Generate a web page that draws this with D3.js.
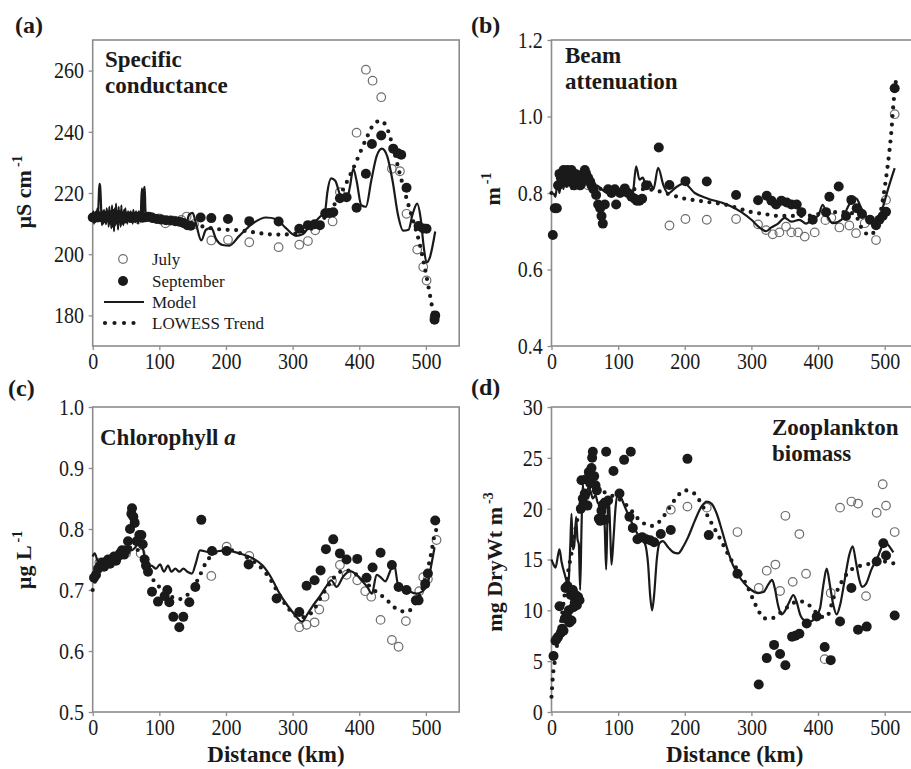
<!DOCTYPE html>
<html>
<head>
<meta charset="utf-8">
<script src="https://cdn.jsdelivr.net/npm/d3@7"></script>
<style>
  body { margin: 0; background: #fff; }
  svg { display: block; font-family: "Liberation Serif", "Times New Roman", serif; }
</style>
</head>
<body>
<script>
// ---- data: [distance km, value] ----
const distanceTicks = [0, 100, 200, 300, 400, 500];

const condTicks = [180, 200, 220, 240, 260];
const condJuly = [[5,212.3],[18,211.8],[30,212.5],[42,211.2],[55,212],[68,211.5],[88,212.2],[100,211.7],[109,210.1],[122,211],[133,211.2],[141,212.3],[152,209.8],[178,204.5],[203,204.7],[235,203.9],[279,202.3],[310,203.1],[323,204.3],[334,207.8],[360,210.7],[371,220.3],[396,239.7],[410,260.3],[420,256.7],[433,251.3],[449,227.9],[461,227.1],[471,213.2],[487,201.5],[496,195.8],[501,191.4],[513,179.5]];
const condSept = [[0,212],[3,212.2],[7,212],[11,212.4],[15,211.9],[19,212.3],[23,212],[27,212.5],[31,211.7],[35,212.3],[39,212],[43,212.4],[47,211.6],[51,212.1],[55,212.3],[59,211.8],[63,212.2],[67,212],[71,212.4],[75,211.9],[79,212.1],[84,212.2],[90,211.8],[96,211.5],[103,211.3],[110,211.1],[117,211],[124,210.8],[130,210.6],[136,210.2],[142,209.5],[147,209.3],[162,212],[178,211.8],[203,211.5],[235,210.8],[279,210.7],[310,208.3],[323,209.5],[333,209.8],[341,209.5],[349,213.4],[355,213.5],[361,213.7],[371,218.3],[381,218.6],[396,215.2],[410,226.3],[419,236],[433,238.8],[451,234.5],[458,233],[463,232.5],[471,221.7],[489,209.2],[496,208.4],[501,208.3],[514,180],[513,178.6]];
const condModel = [[0,212],[1,214],[2,210],[3,213.5],[4,210.5],[5,214],[6,211],[7,215],[8,212],[9,218],[10,223],[11,222.5],[12,219],[13,213],[14,209.5],[15,214],[16,210],[17,214.5],[18,210.5],[19,213.8],[20,209.8],[21,215],[22,211],[23,214],[24,209],[25,215.5],[26,210],[27,214],[28,208.5],[29,216],[30,209],[31,214.5],[32,207.5],[33,215],[34,209.5],[35,216.5],[36,210],[37,214],[38,208],[39,215.5],[40,210.5],[41,214],[42,209],[43,216],[44,210],[45,213.5],[46,209.5],[47,214.5],[48,210.5],[49,215],[50,211],[51,213.5],[52,210],[53,214],[54,211],[55,213],[56,210.5],[57,214],[58,211],[59,213.5],[60,210],[61,214.5],[62,211],[63,213],[64,210.5],[65,214],[66,211],[67,213.5],[68,210],[69,214],[70,211.5],[71,213],[72,212],[73,218],[74,221.5],[75,214],[76,213],[77,221],[78,222],[79,215],[80,212],[81,213.5],[82,211],[85,212.5],[90,211.5],[95,212],[100,211.5],[110,211],[120,211],[130,210.5],[140,210],[145,213],[150,213.5],[155,210],[163,204.5],[170,208],[178,208.6],[185,205],[195,203],[205,202.8],[220,206],[240,210],[260,212],[275,211.5],[290,208.5],[305,206],[315,206.5],[325,209],[340,212],[349,214.5],[352,220],[358,224.8],[364,224],[372,219],[381,217.6],[386,222],[391,228],[396,224],[403,216],[410,215.5],[418,224],[426,232],[434,234.5],[442,232],[450,224],[458,213],[466,207.7],[474,208],[480,213],[487,216.5],[492,212],[497,202],[501,197.3],[506,199],[514,207.4]];
const condTrend = [[0,212],[20,212.2],[40,212.3],[60,212.2],[80,212],[100,211.6],[120,211],[140,210.3],[160,209.3],[180,208.4],[200,208],[220,207.8],[240,207.2],[260,206.6],[280,206.4],[300,206.6],[320,207.6],[335,209.2],[350,212.5],[365,217],[380,223],[395,230],[410,237.5],[422,242.5],[432,243.6],[440,242],[450,235.5],[460,227],[470,219],[480,211.5],[490,204],[498,196],[505,188],[510,182],[516,175.5]];

const beamTicks = [0.4, 0.6, 0.8, 1.0, 1.2];
const beamJuly = [[10,0.82],[25,0.83],[40,0.84],[55,0.82],[177,0.715],[201,0.732],[233,0.730],[277,0.732],[310,0.718],[322,0.703],[332,0.692],[342,0.697],[352,0.712],[360,0.697],[370,0.697],[380,0.686],[395,0.697],[411,0.729],[420,0.735],[432,0.710],[447,0.715],[457,0.695],[470,0.721],[487,0.677],[502,0.782],[515,1.006]];
const beamSept = [[2,0.69],[5,0.76],[8,0.76],[10,0.82],[12,0.85],[14,0.84],[16,0.83],[18,0.86],[20,0.85],[22,0.84],[24,0.86],[26,0.85],[28,0.83],[30,0.86],[32,0.84],[34,0.82],[36,0.85],[38,0.83],[40,0.84],[43,0.82],[46,0.83],[48,0.85],[50,0.86],[52,0.85],[55,0.84],[58,0.83],[60,0.82],[63,0.81],[67,0.795],[70,0.77],[73,0.76],[75,0.74],[77,0.72],[80,0.77],[85,0.81],[90,0.80],[95,0.81],[97,0.77],[103,0.80],[110,0.812],[115,0.80],[120,0.79],[125,0.785],[128,0.78],[132,0.78],[136,0.785],[142,0.82],[161,0.919],[177,0.821],[201,0.831],[233,0.830],[277,0.795],[310,0.781],[323,0.793],[330,0.78],[337,0.77],[345,0.78],[353,0.775],[360,0.77],[368,0.77],[375,0.75],[392,0.73],[412,0.75],[417,0.79],[431,0.817],[442,0.74],[450,0.782],[458,0.76],[466,0.745],[478,0.73],[487,0.716],[492,0.73],[497,0.74],[502,0.751],[515,1.074]];
const beamModel = [[3,0.80],[6,0.79],[9,0.83],[12,0.80],[15,0.84],[18,0.81],[21,0.85],[24,0.82],[27,0.84],[30,0.81],[33,0.85],[36,0.82],[39,0.84],[42,0.81],[45,0.84],[48,0.82],[51,0.85],[54,0.82],[57,0.83],[62,0.81],[68,0.82],[75,0.81],[85,0.80],[95,0.81],[105,0.80],[115,0.79],[122,0.80],[127,0.87],[132,0.835],[137,0.84],[142,0.82],[147,0.83],[153,0.81],[160,0.866],[168,0.82],[175,0.799],[187,0.815],[199,0.825],[215,0.80],[235,0.785],[255,0.775],[270,0.765],[285,0.75],[300,0.73],[312,0.71],[322,0.70],[330,0.71],[340,0.72],[350,0.735],[360,0.725],[372,0.73],[382,0.72],[392,0.734],[400,0.74],[407,0.769],[414,0.74],[422,0.721],[435,0.73],[447,0.77],[457,0.786],[465,0.76],[475,0.73],[487,0.716],[495,0.75],[505,0.81],[515,0.865]];
const beamTrend = [[0,0.80],[15,0.815],[30,0.82],[45,0.82],[60,0.815],[80,0.81],[100,0.81],[120,0.81],[140,0.81],[160,0.805],[180,0.795],[200,0.785],[220,0.78],[240,0.775],[260,0.77],[280,0.76],[300,0.75],[320,0.745],[340,0.74],[360,0.74],[380,0.74],[400,0.745],[420,0.75],[440,0.75],[455,0.745],[465,0.71],[477,0.69],[485,0.70],[492,0.734],[497,0.78],[502,0.838],[507,0.908],[510,0.96],[513,1.03],[517,1.095]];

const chlTicks = [0.5, 0.6, 0.7, 0.8, 0.9, 1.0];
const chlJuly = [[10,0.745],[30,0.75],[50,0.76],[72,0.76],[178,0.723],[201,0.771],[235,0.756],[310,0.639],[321,0.643],[333,0.647],[340,0.668],[348,0.689],[359,0.715],[371,0.741],[381,0.725],[397,0.716],[409,0.698],[418,0.689],[432,0.651],[449,0.618],[459,0.607],[470,0.649],[490,0.698],[496,0.721],[503,0.718],[516,0.782]];
const chlSept = [[2,0.72],[5,0.725],[8,0.735],[11,0.74],[14,0.745],[17,0.738],[20,0.745],[23,0.75],[26,0.743],[29,0.75],[32,0.755],[35,0.748],[38,0.755],[41,0.76],[44,0.765],[47,0.758],[50,0.765],[53,0.78],[56,0.80],[58,0.825],[59,0.834],[61,0.82],[63,0.81],[66,0.78],[70,0.79],[73,0.79],[75,0.775],[78,0.75],[80,0.74],[83,0.73],[89,0.697],[98,0.681],[108,0.69],[112,0.70],[115,0.68],[121,0.656],[130,0.639],[136,0.656],[145,0.68],[154,0.705],[163,0.815],[179,0.764],[201,0.764],[234,0.742],[276,0.686],[310,0.664],[321,0.707],[333,0.716],[342,0.732],[350,0.767],[361,0.783],[371,0.76],[381,0.75],[397,0.751],[411,0.72],[420,0.737],[432,0.761],[449,0.741],[459,0.705],[471,0.70],[485,0.683],[489,0.683],[499,0.71],[503,0.727],[514,0.814]];
const chlModel = [[0,0.755],[3,0.76],[8,0.745],[13,0.74],[18,0.75],[24,0.745],[30,0.755],[36,0.75],[42,0.76],[48,0.765],[54,0.77],[58,0.765],[64,0.77],[71,0.78],[76,0.765],[81,0.731],[88,0.74],[95,0.735],[101,0.742],[107,0.73],[113,0.74],[118,0.73],[124,0.735],[130,0.73],[136,0.735],[142,0.73],[149,0.727],[155,0.745],[161,0.765],[175,0.762],[200,0.765],[220,0.76],[240,0.752],[255,0.74],[268,0.72],[280,0.695],[292,0.675],[303,0.66],[314,0.648],[322,0.66],[329,0.672],[341,0.69],[350,0.705],[358,0.716],[366,0.705],[376,0.722],[386,0.731],[396,0.725],[404,0.715],[412,0.705],[419,0.694],[426,0.725],[433,0.72],[439,0.714],[446,0.73],[452,0.744],[459,0.705],[471,0.70],[486,0.694],[501,0.705],[508,0.74],[513,0.77]];
const chlTrend = [[0,0.70],[5,0.72],[12,0.735],[20,0.745],[30,0.752],[40,0.76],[50,0.767],[60,0.77],[68,0.765],[75,0.752],[82,0.735],[90,0.718],[100,0.705],[110,0.695],[120,0.688],[130,0.685],[140,0.69],[150,0.702],[160,0.722],[170,0.745],[180,0.758],[195,0.765],[210,0.765],[225,0.758],[240,0.748],[255,0.734],[268,0.715],[280,0.692],[292,0.672],[302,0.66],[312,0.655],[322,0.657],[332,0.668],[342,0.687],[352,0.705],[362,0.72],[372,0.73],[382,0.732],[392,0.728],[402,0.72],[412,0.71],[422,0.70],[432,0.692],[442,0.683],[452,0.672],[462,0.666],[472,0.664],[482,0.675],[490,0.69],[497,0.71],[503,0.735],[508,0.76],[513,0.79],[516,0.80]];

const zooTicks = [0, 5, 10, 15, 20, 25, 30];
const zooJuly = [[179,19.9],[204,20.2],[233,20.1],[279,17.7],[311,12.2],[323,13.9],[336,14.5],[343,11.9],[351,19.3],[362,12.8],[372,17.5],[382,13.6],[410,5.2],[419,11.7],[433,20.1],[450,20.7],[460,20.5],[472,11.4],[488,19.6],[497,22.4],[502,20.3],[515,17.7]];
const zooSept = [[3,5.5],[6,7],[8,7.2],[10,7.4],[12,10.4],[14,7.8],[16,8.2],[18,8],[20,9.2],[21,12.2],[23,9.5],[24,12.4],[26,10],[27,8.8],[29,11.5],[30,9],[32,12],[33,10.3],[35,10.8],[36,11.5],[38,10.5],[40,11.3],[42,11],[44,20],[45,22.8],[47,21],[48,20.5],[50,21.5],[52,22.9],[54,20.3],[56,23.6],[58,22.5],[60,24],[61,25],[62,25.6],[64,23.2],[66,22.3],[68,21.8],[71,19],[73,18.8],[75,19.8],[77,20.3],[80,18.9],[82,25.6],[85,20.8],[93,23.7],[102,21.5],[109,24.8],[117,19.2],[119,25.6],[122,18.1],[129,17],[136,17.2],[142,17],[148,16.9],[154,16.7],[164,17.5],[179,17.9],[204,24.9],[236,17.4],[279,13.6],[311,2.7],[323,5.3],[334,6.6],[343,5.7],[351,4.6],[361,7.4],[366,7.5],[372,7.7],[383,8.7],[398,9.4],[410,6.4],[419,5.1],[433,8.9],[450,12.2],[460,8.1],[473,8.4],[488,14.8],[498,16.6],[502,15.4],[515,9.5]];
const zooModel = [[0,15],[3,14.5],[6,14.2],[10,15.5],[12,16],[15,14.8],[20,13.5],[25,12.5],[28,16],[30,19.5],[32,16],[34,16.3],[37,19.2],[39,17],[41,16.5],[43,12],[45,18],[47,22.5],[49,20],[52,21.5],[55,21],[58,21.8],[62,21],[66,21.3],[70,20.5],[75,20.8],[78,21],[80,18],[82,14],[84,19],[86,21],[88,18],[90,14.5],[93,17],[96,20],[100,21.5],[105,21],[110,20.2],[118,19],[125,18],[132,17.2],[140,16.6],[145,14.5],[148,11.5],[151,10],[154,11.5],[158,15],[162,16.6],[167,16.8],[175,16.2],[183,15.7],[190,15.6],[198,16.3],[205,17.2],[215,18.8],[225,20.2],[233,20.7],[240,20.5],[248,19.5],[256,17.8],[264,16],[272,14.5],[280,13.5],[290,12.6],[300,12],[310,11.7],[318,11.8],[325,12.5],[331,13],[335,12.2],[340,10.5],[345,9.6],[350,9.9],[356,10.7],[363,11.5],[368,10.8],[373,9.6],[380,9],[388,8.9],[396,9.3],[403,10.2],[408,12.5],[413,14.1],[418,12.4],[423,10.5],[428,9.6],[433,10.5],[440,13],[447,15.5],[452,16.3],[457,14.7],[462,13],[466,12.3],[472,12.6],[480,14],[490,15.3],[497,16.4],[502,16.6],[508,16.2],[513,15.7]];
const zooTrend = [[0,1.5],[1,2.5],[2,3.5],[4,4.5],[7,6],[10,7.2],[13,8.3],[16,9.7],[19,11.2],[22,12.5],[26,14.2],[30,15.6],[35,17.6],[40,19.3],[46,20.7],[53,21.7],[60,22.1],[70,21.9],[80,21.6],[90,21.3],[100,21],[110,20.5],[120,19.8],[130,19],[140,18.5],[150,18.3],[160,18.6],[170,19.4],[180,20.4],[190,21.3],[200,21.8],[212,21.6],[224,20.6],[235,19.2],[245,18],[255,16.8],[265,15.5],[275,14.4],[285,13.4],[295,12.2],[303,11],[311,9.9],[320,9.2],[330,9.2],[340,9.6],[350,10.1],[360,10.6],[370,10.9],[380,10.8],[390,10.3],[400,9.6],[410,9.3],[417,9.8],[422,11],[430,12.1],[440,13.3],[450,14],[460,14.3],[470,14.5],[485,14.6],[500,14.8],[514,14.6]];

const legendLabels = ['July', 'September', 'Model', 'LOWESS Trend'];

// ---- layout ----
const W = 911, H = 769;
const frameW = 366.5;
const ink = '#1a1a1a', frameGray = '#8c8c8c', julyGray = '#6e6e6e';

const panels = [
	{ tag: '(a)', tagX: 15, tagY: 33, x0: 92.7, top: 40, bottom: 346, yDomain: [170, 270], yTicks: condTicks, fmt: d3.format('d'),
		july: condJuly, sept: condSept, model: condModel, trend: condTrend,
		title: ['Specific', 'conductance'], titleX: 105, titleY: 67,
		yLabel: ['µS cm', '-1'], yLabelX: 31, yLabelY: 192, legend: true },
	{ tag: '(b)', tagX: 471, tagY: 33, x0: 551.5, top: 40, bottom: 346, yDomain: [0.4, 1.2], yTicks: beamTicks, fmt: d3.format('.1f'),
		july: beamJuly, sept: beamSept, model: beamModel, trend: beamTrend,
		title: ['Beam', 'attenuation'], titleX: 565, titleY: 63,
		yLabel: ['m', '-1'], yLabelX: 500, yLabelY: 189 },
	{ tag: '(c)', tagX: 8, tagY: 396, x0: 92.7, top: 407, bottom: 712, yDomain: [0.5, 1.0], yTicks: chlTicks, fmt: d3.format('.1f'),
		july: chlJuly, sept: chlSept, model: chlModel, trend: chlTrend,
		title: ['Chlorophyll '], titleItalic: 'a', titleX: 100, titleY: 445,
		yLabel: ['µg L', '-1'], yLabelX: 31, yLabelY: 560, xLabel: true },
	{ tag: '(d)', tagX: 471, tagY: 395, x0: 551.5, top: 407, bottom: 712, yDomain: [0, 30], yTicks: zooTicks, fmt: d3.format('d'),
		july: zooJuly, sept: zooSept, model: zooModel, trend: zooTrend,
		title: ['Zooplankton', 'biomass'], titleX: 772, titleY: 435,
		yLabel: ['mg DryWt m', '-3'], yLabelX: 502, yLabelY: 562, xLabel: true }
];

const svg = d3.select('body').append('svg')
	.attr('width', W)
	.attr('height', H);

panels.forEach((p) => {
	const x = d3.scaleLinear().domain([0, 550]).range([p.x0, p.x0 + frameW]);
	const y = d3.scaleLinear().domain(p.yDomain).range([p.bottom, p.top]);
	const g = svg.append('g');

	//axes, domain line replaced by the frame; tick numbers are narrow, tall serif
	const yAxis = g.append('g')
		.attr('transform', `translate(${p.x0},0)`)
		.call(d3.axisLeft(y).tickValues(p.yTicks).tickFormat(p.fmt).tickSize(4).tickPadding(6));
	const xAxis = g.append('g')
		.attr('transform', `translate(0,${p.bottom})`)
		.call(d3.axisBottom(x).tickValues(distanceTicks).tickFormat(d3.format('d')).tickSize(4).tickPadding(3));
	[yAxis, xAxis].forEach((a) => {
		a.select('.domain').remove();
		a.selectAll('line').attr('stroke', frameGray).attr('stroke-width', 1.3);
		a.selectAll('text').attr('fill', ink).attr('transform', 'scale(0.87,1)')
			.style('font-size', '23px').style('font-family', '"Liberation Serif", serif');
	});

	g.append('rect')
		.attr('x', p.x0).attr('y', p.top)
		.attr('width', frameW).attr('height', p.bottom - p.top)
		.attr('fill', 'none').attr('stroke', frameGray).attr('stroke-width', 1.6);

	//points
	g.append('g').selectAll('circle')
		.data(p.july).enter().append('circle')
		.attr('cx', (d) => x(d[0])).attr('cy', (d) => y(d[1])).attr('r', 4.3)
		.attr('fill', 'none').attr('stroke', julyGray).attr('stroke-width', 1.2);
	g.append('g').selectAll('circle')
		.data(p.sept).enter().append('circle')
		.attr('cx', (d) => x(d[0])).attr('cy', (d) => y(d[1])).attr('r', 5)
		.attr('fill', ink);

	//lines
	const line = d3.line().x((d) => x(d[0])).y((d) => y(d[1])).curve(d3.curveMonotoneX);
	g.append('path').datum(p.model).attr('d', line)
		.attr('fill', 'none').attr('stroke', ink).attr('stroke-width', 2.2).attr('stroke-linejoin', 'round');
	g.append('path').datum(p.trend).attr('d', line)
		.attr('fill', 'none').attr('stroke', ink).attr('stroke-width', 4.2)
		.attr('stroke-linecap', 'round').attr('stroke-dasharray', '0 8.5');

	//labels
	g.append('text').attr('x', p.tagX).attr('y', p.tagY).text(p.tag)
		.attr('fill', ink).style('font-size', '24px').style('font-weight', 'bold');

	const t = g.append('text').attr('x', p.titleX).attr('y', p.titleY)
		.attr('fill', ink).style('font-size', '23px').style('font-weight', 'bold');
	p.title.forEach((s, i) => {
		t.append('tspan').attr('x', p.titleX).attr('dy', i === 0 ? 0 : 26).text(s);
	});
	if (p.titleItalic) t.append('tspan').style('font-style', 'italic').text(p.titleItalic);

	const yl = g.append('text')
		.attr('transform', `translate(${p.yLabelX},${p.yLabelY}) rotate(-90)`)
		.attr('text-anchor', 'middle')
		.attr('fill', ink).style('font-size', '22px').style('font-weight', 'bold');
	yl.append('tspan').text(p.yLabel[0]);
	yl.append('tspan').attr('dx', 3).attr('dy', -9).style('font-size', '14px').text(p.yLabel[1]);

	if (p.xLabel) {
		g.append('text').attr('x', p.x0 + frameW / 2).attr('y', 762)
			.attr('text-anchor', 'middle').attr('fill', ink)
			.style('font-size', '23px').style('font-weight', 'bold')
			.text('Distance (km)');
	}

	if (p.legend) {
		const lg = g.append('g');
		const rows = [265, 287, 308, 329];
		lg.append('circle').attr('cx', 123).attr('cy', rows[0] - 6).attr('r', 4.3)
			.attr('fill', 'none').attr('stroke', julyGray).attr('stroke-width', 1.2);
		lg.append('circle').attr('cx', 123).attr('cy', rows[1] - 6).attr('r', 5).attr('fill', ink);
		lg.append('line').attr('x1', 104).attr('x2', 144).attr('y1', rows[2] - 6).attr('y2', rows[2] - 6)
			.attr('stroke', ink).attr('stroke-width', 2.2);
		lg.append('line').attr('x1', 105).attr('x2', 143).attr('y1', rows[3] - 6).attr('y2', rows[3] - 6)
			.attr('stroke', ink).attr('stroke-width', 4.2).attr('stroke-linecap', 'round').attr('stroke-dasharray', '0 9.5');
		lg.selectAll('text').data(legendLabels).enter().append('text')
			.attr('x', 152).attr('y', (d, i) => rows[i])
			.attr('fill', ink).style('font-size', '17px')
			.text((d) => d);
	}
});
</script>
</body>
</html>
